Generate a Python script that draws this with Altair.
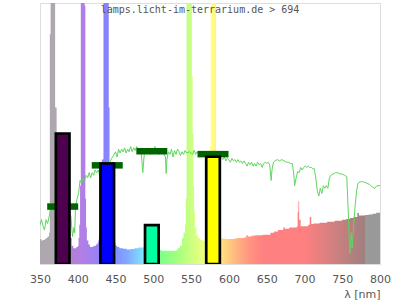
import altair as alt
import pandas as pd

# ---- data -------------------------------------------------------------
# lamp spectrum: wavelength (nm) where a step starts, relative intensity
spec_wl = [350, 352, 354, 356, 358, 360, 362, 363, 364, 370, 372, 374, 388, 390, 392,
           394, 396, 398, 400, 401, 402, 403, 404, 408, 409, 410, 411, 412, 414, 416,
           418, 420, 422, 424, 426, 427, 428, 430, 432, 434, 441, 442, 444, 446, 448,
           450, 452, 455, 460, 465, 470, 475, 480, 485, 490, 508, 510, 520, 530, 532,
           535, 538, 540, 542, 543, 544, 551, 552, 553, 554, 555, 557, 559, 562, 565,
           568, 574, 575, 576, 583, 584, 586, 588, 590, 595, 600, 605, 610, 615, 620,
           623, 625, 630, 635, 640, 645, 648, 655, 660, 665, 670, 672, 674, 680, 685,
           690, 691, 692, 693, 695, 700, 705, 707, 709, 712, 720, 730, 740, 750, 755,
           760, 765, 770, 772, 775, 780, 785, 790, 795, 800]
spec_val = [9.5, 9, 9.2, 9.5, 10, 10.5, 12, 88, 130, 60, 20, 10, 10, 10, 7,
            6, 6, 6.5, 7, 10, 15, 30, 130, 130, 99, 25, 14, 9, 7.5, 6.5,
            6.5, 6.8, 7, 7.5, 8, 9, 11, 15, 40, 130, 60, 25, 14, 10, 8,
            7, 6.5, 6, 5.8, 5.6, 5.7, 6, 6.3, 6.3, 6, 5.5, 5.1, 5.1, 5.3, 6,
            7, 10, 12, 15, 25, 130, 72, 50, 30, 20, 14, 11, 10, 9.2, 8.8,
            9, 20, 45, 130, 40, 15, 10.5, 10, 9.8, 9.6, 9.6, 9.7, 10, 10, 10.2,
            11, 10.5, 10.8, 11, 11, 11.2, 11.2, 12, 12.5, 13, 13, 14, 13.5, 14, 14,
            14.5, 20, 24, 17, 14.5, 14.5, 15, 18, 15.3, 15.5, 15.8, 16.2, 16.6, 17, 17.2,
            17.6, 18, 19.5, 18.6, 18.6, 18.8, 19, 19.3, 19.6, 20]

# reference daylight curve
sun_wl = [350, 352, 354, 356, 358, 360, 362, 364, 366, 368, 372, 376, 380, 384, 388,
          391, 393, 395, 396, 397, 399, 401, 403, 405, 407, 409, 411, 413, 415, 417,
          419, 421, 423, 425, 427, 429, 432, 436, 440, 444, 448, 450, 452, 454, 456,
          458, 460, 462, 464, 466, 468, 470, 472, 474, 476, 478, 480, 482, 484, 486,
          488, 490, 492, 494, 496, 498, 500, 502, 504, 506, 508, 510, 512, 514, 516,
          517, 518, 520, 522, 524, 526, 528, 530, 532, 534, 536, 538, 540, 542, 544,
          548, 552, 554, 556, 558, 560, 562, 564, 570, 575, 580, 585, 590, 592, 594,
          596, 598, 600, 602, 604, 606, 608, 610, 612, 614, 616, 618, 620, 622, 624,
          626, 628, 630, 632, 634, 636, 638, 640, 642, 644, 646, 648, 650, 652, 654,
          656, 657, 659, 661, 664, 667, 670, 673, 676, 679, 682, 684, 686, 687, 689,
          691, 693, 695, 697, 699, 701, 703, 705, 707, 709, 711, 713, 715, 717, 719,
          721, 723, 725, 727, 729, 731, 733, 735, 738, 741, 744, 747, 750, 753, 756,
          758, 760, 762, 763, 765, 767, 769, 771, 774, 778, 782, 786, 790, 793, 796, 800]
sun_val = [15, 17, 14.5, 13, 17, 15.5, 18, 21, 22, 24, 26, 24, 26, 23, 21,
           18, 10.5, 14, 12, 22, 25, 27, 32, 31, 33, 32, 34, 33, 35, 33,
           35, 34, 36, 35, 36, 34, 33, 36, 38, 40, 42, 43, 41, 44, 42.5,
           44, 43, 44.5, 42.5, 44, 43, 45, 43, 44.5, 43.5, 45, 44, 42.5, 43, 35,
           42, 44, 43, 44.5, 42, 44, 43, 45, 43, 44, 42, 44, 43, 42, 41,
           34.7, 40, 43, 42, 44, 41, 43.5, 42, 44, 43, 41.5, 43, 42, 43.5, 42.5,
           43, 42, 43.5, 42, 43, 42, 43, 41.5, 42, 41, 42, 41, 40.5, 40, 41,
           39.5, 40.5, 40, 39, 40.5, 39.5, 40, 39, 40, 39, 39.5, 38.5, 39.5, 38.5, 37.5,
           39, 38, 39, 37.5, 38.5, 37.5, 39, 38, 38.5, 37, 38.5, 39, 38.5, 39, 38,
           32, 36, 39, 39.5, 40, 39.5, 40, 39.5, 39, 39, 38.5, 38.5, 34, 30, 33,
           35.5, 35, 37, 36, 37, 37.5, 37, 37.5, 37, 37, 36.5, 36.5, 33, 28, 26,
           29, 27, 30, 29, 30, 29, 33, 34, 34.5, 35, 35, 34.5, 34.5, 34, 33.5,
           20, 4, 12, 6, 14, 22, 28, 31, 31.5, 31.5, 31, 30.5, 29.5, 29, 30, 30]

# band bars: centre wavelength, height, fill
band_center = [380, 439, 498, 579]
band_value = [50, 38.5, 14.9, 41.1]
band_color = ["#4d004d", "#0000ff", "#00ffa0", "#ffff00"]
# dark-green level markers
mark_value = [22, 37.8, 43.2, 42.1]

x_ticks = [350, 400, 450, 500, 550, 600, 650, 700, 750, 800]

# ---- colours of the spectrum (gradient along the wavelength axis) -------
stop_nm = [350, 379.9, 380, 395, 405, 420, 436, 450, 465, 480, 490, 500, 510, 530, 546,
           560, 578, 590, 605, 625, 645, 700, 779.9, 780, 800]
stop_col = ["#afa7af", "#afa7af", "#a890c0", "#b080d8", "#b47ee6", "#a080f0", "#8a80ff",
            "#8090ff", "#80a8ff", "#80d0ff", "#80f0ff", "#80ffc0", "#80ff88", "#a0ff80",
            "#c4ff80", "#e0ff80", "#ffff80", "#ffe080", "#ffc080", "#ff9880", "#ff8080",
            "#ff8080", "#a07f7f", "#999999", "#999999"]
X0, X1 = 350, 800
grad = alt.LinearGradient(
    gradient="linear", x1=0, x2=1, y1=0, y2=0,
    stops=[alt.GradientStop(offset=(n - X0) / (X1 - X0), color=c)
           for n, c in zip(stop_nm, stop_col)])

spec_df = pd.DataFrame({"wl": spec_wl, "v": spec_val})
sun_df = pd.DataFrame({"wl": sun_wl, "v": sun_val})
band_df = pd.DataFrame({"c": band_center, "v": band_value, "col": band_color,
                        "m": mark_value})
band_df["b0"] = band_df["c"] - 9
band_df["b1"] = band_df["c"] + 9
band_df["m0"] = band_df["c"] - 20.5
band_df["m1"] = band_df["c"] + 20.5

xs = alt.Scale(domain=[X0, X1], nice=False, zero=False)
ys = alt.Scale(domain=[0, 100], nice=False)

xaxis = alt.Axis(values=x_ticks, ticks=False, domain=False, grid=False, labelFlush=False,
                 labelOverlap=False, labelFont="DejaVu Sans", labelFontSize=11,
                 labelColor="#555555", labelPadding=9, title="λ [nm]",
                 titleFont="DejaVu Sans", titleFontSize=11, titleFontWeight="normal",
                 titleColor="#555555", titleX=340, titleY=33.5, titleAlign="right",
                 titleBaseline="alphabetic")

spec = alt.Chart(spec_df).mark_area(interpolate="step-after", clip=True, color=grad,
                                    opacity=1).encode(
    x=alt.X("wl:Q", scale=xs, axis=xaxis),
    y=alt.Y("v:Q", scale=ys, axis=None),
)

sun = alt.Chart(sun_df).mark_line(color="#5ed65e", strokeWidth=1, clip=True).encode(
    x=alt.X("wl:Q", scale=xs, axis=xaxis), y=alt.Y("v:Q", scale=ys, axis=None))

markers = alt.Chart(band_df).mark_rule(color="#006400", strokeWidth=6.5, strokeCap="butt").encode(
    x=alt.X("m0:Q", scale=xs, axis=xaxis), x2="m1:Q", y=alt.Y("m:Q", scale=ys, axis=None))

bars = alt.Chart(band_df).mark_bar(stroke="black", strokeWidth=2.7, clip=True).encode(
    x=alt.X("b0:Q", scale=xs, axis=xaxis), x2="b1:Q",
    y=alt.Y("v:Q", scale=ys, axis=None), y2=alt.datum(0),
    color=alt.Color("col:N", scale=None),
)

chart = alt.layer(spec, sun, markers, bars).properties(
    width=340, height=261,
    autosize=alt.AutoSizeParams(type="none"),
    padding={"left": 40, "top": 3, "right": 20, "bottom": 36},
    title=alt.TitleParams("lamps.licht-im-terrarium.de > 694", font="DejaVu Sans Mono",
                          fontSize=10, fontWeight="normal", color="#555555",
                          anchor="middle", frame="group", offset=-12, dx=-10),
).configure_view(stroke="#d8d8d8", strokeWidth=1).configure_axisX(
    labelOverlap=False, labelFlush=False
).configure(background="white")

chart.save("out.html", embed_options={"renderer": "svg", "actions": False})
